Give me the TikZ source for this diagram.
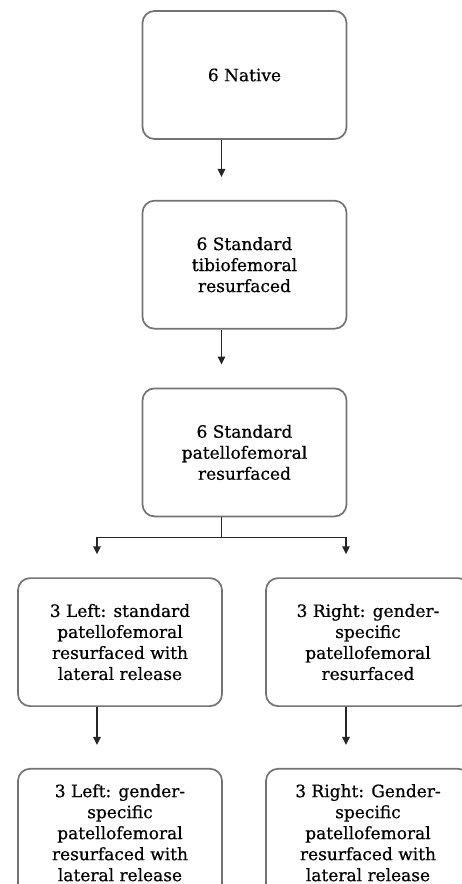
\documentclass[tikz,border=0pt]{standalone}
\usepackage{fontspec}
\setmainfont{DejaVu Serif}[BoldFont=DejaVu Serif,BoldFeatures={FakeBold=0.6}]
\usetikzlibrary{positioning,arrows.meta}

\begin{document}
\begin{tikzpicture}[x=1pt,y=1pt,
  font=\fontsize{17}{21}\selectfont\bfseries,
  box/.style={draw=black!55,line width=1.7pt,rounded corners=12pt,minimum width=204pt,minimum height=128pt,align=center,inner sep=4pt},
  flow/.style={-{Triangle[length=8pt,width=7.5pt]},line width=1.5pt,draw=black!85,shorten >=23pt},
  >=Latex]
\clip (0,0) rectangle (462,-884);
\node[box] (native) at (244.5,-75) {6 Native};
\node[box,below=60pt of native] (tibio) {6 Standard\\tibiofemoral\\resurfaced};
\node[box,below=58pt of tibio] (patello) {6 Standard\\patellofemoral\\resurfaced};
\node[box,below=60pt of patello,xshift=-124.5pt] (leftlr) {3 Left: standard\\patellofemoral\\resurfaced with\\lateral release};
\node[box,below=60pt of patello,xshift=123.5pt] (rightgs) {3 Right: gender-\\specific\\patellofemoral\\resurfaced};
\node[box,below=61pt of leftlr] (leftgs) {3 Left: gender-\\specific\\patellofemoral\\resurfaced with\\lateral release};
\node[box,below=61pt of rightgs] (rightgslr) {3 Right: Gender-\\specific\\patellofemoral\\resurfaced with\\lateral release};
\draw[flow] ([xshift=-23pt]native.south) -- ([xshift=-23pt]tibio.north);
\draw[flow] ([xshift=-23pt]tibio.south) -- ([xshift=-23pt]patello.north);
\draw[line width=1.5pt,draw=black!85] ([xshift=-23pt]patello.south) -- ++(0,-20) coordinate (split);
\draw[flow] (split) -| ([xshift=-23pt]leftlr.north);
\draw[flow] (split) -| ([xshift=-22pt]rightgs.north);
\draw[flow] ([xshift=-23pt]leftlr.south) -- ([xshift=-23pt]leftgs.north);
\draw[flow] ([xshift=-22pt]rightgs.south) -- ([xshift=-22pt]rightgslr.north);
\end{tikzpicture}
\end{document}
